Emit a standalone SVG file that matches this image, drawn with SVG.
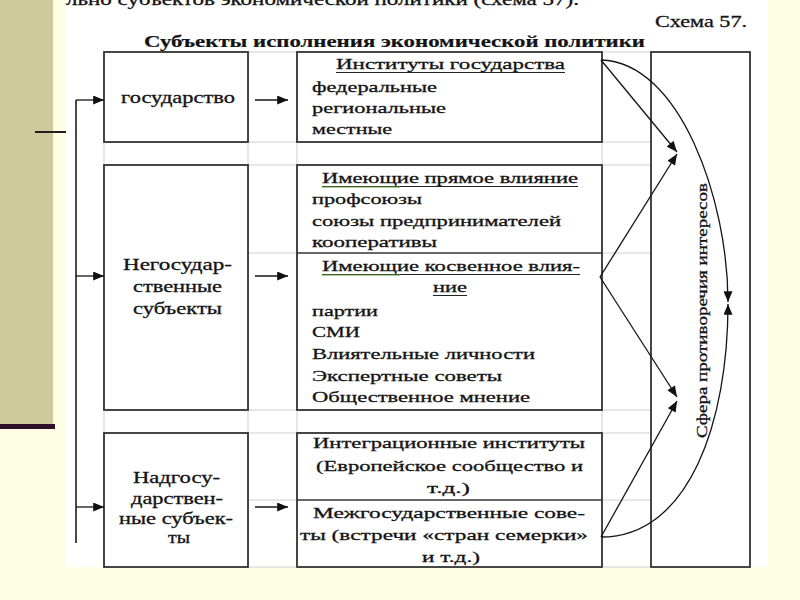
<svg xmlns="http://www.w3.org/2000/svg" width="800" height="600" viewBox="0 0 800 600">
<defs>
<style>
.t{font-family:"Liberation Serif","Times New Roman",serif;font-size:16px;fill:#141414;stroke:#141414;stroke-width:0.3}
.m{font-size:15.5px}
.b{font-weight:bold;stroke-width:0.2}
.box{fill:#fff;stroke:#333;stroke-width:1.8}
.div{stroke:#333;stroke-width:1.6}
.grid{stroke:#cfcfcf;stroke-width:1;fill:none}
.c{stroke:#151515;stroke-width:1.3;fill:none}
.v{stroke:#4a4a4a;stroke-width:2;fill:none}
.ul{stroke:#222;stroke-width:1}
.gl{stroke:#5a9a3a;stroke-width:1.2}
</style>
<marker id="ah" viewBox="0 0 12 10" refX="12" refY="5" markerWidth="12" markerHeight="9" markerUnits="userSpaceOnUse" orient="auto"><path d="M0,0 L12,5 L0,10 z" fill="#111"/></marker>
</defs>
<rect x="0" y="0" width="800" height="600" fill="#fefee4"/>
<rect x="0" y="0" width="53" height="424" fill="#cdca9b"/>
<rect x="0" y="424" width="55" height="5" fill="#2e0f2a"/>
<line x1="35" y1="132" x2="67" y2="132" stroke="#2a1a20" stroke-width="2"/>
<rect x="66" y="0" width="702" height="567" fill="#fff"/>
<text class="t" x="66" y="5" font-size="15" textLength="513" lengthAdjust="spacingAndGlyphs">льно субъектов экономической политики (схема 57).</text>
<text class="t" x="655" y="27" font-size="15" textLength="92" lengthAdjust="spacingAndGlyphs">Схема 57.</text>
<text class="t b" x="144" y="47" textLength="501" lengthAdjust="spacingAndGlyphs">Субъекты исполнения экономической политики</text>
<g id="grid" class="grid">
<path d="M104,52 V567 M248,52 V567 M297,52 V567 M602,52 V567"/>
<path d="M104,52 H651 M104,142 H651 M104,165 H651 M104,253 H651 M104,410 H651 M104,433 H651 M104,500 H651 M104,567 H651"/>
</g>
<g id="state">
<rect class="box" x="104" y="52" width="144" height="90"/>
<text class="t" x="121" y="103" textLength="114" lengthAdjust="spacingAndGlyphs">государство</text>
</g>
<g id="nonstate">
<rect class="box" x="104" y="165" width="144" height="245"/>
<text class="t" x="123" y="270" textLength="109" lengthAdjust="spacingAndGlyphs">Негосудар-</text>
<text class="t" x="133" y="292" textLength="89" lengthAdjust="spacingAndGlyphs">ственные</text>
<text class="t" x="133" y="314" textLength="89" lengthAdjust="spacingAndGlyphs">субъекты</text>
</g>
<g id="suprastate">
<rect class="box" x="104" y="433" width="144" height="134"/>
<text class="t" x="133" y="483" textLength="87" lengthAdjust="spacingAndGlyphs">Надгосу-</text>
<text class="t" x="131" y="504" textLength="92" lengthAdjust="spacingAndGlyphs">дарствен-</text>
<text class="t" x="119" y="524" textLength="114" lengthAdjust="spacingAndGlyphs">ные субъек-</text>
<text class="t" x="168" y="543" textLength="22" lengthAdjust="spacingAndGlyphs">ты</text>
</g>
<g id="institutions">
<rect class="box" x="297" y="52" width="305" height="90"/>
<text class="t m" x="336" y="69" textLength="229" lengthAdjust="spacingAndGlyphs">Институты государства</text>
<line class="ul" x1="336" y1="72.5" x2="565" y2="72.5"/>
<text class="t m" x="312" y="92" textLength="125" lengthAdjust="spacingAndGlyphs">федеральные</text>
<text class="t m" x="312" y="113" textLength="134" lengthAdjust="spacingAndGlyphs">региональные</text>
<text class="t m" x="312" y="134" textLength="80" lengthAdjust="spacingAndGlyphs">местные</text>
</g>
<g id="influence">
<rect class="box" x="297" y="165" width="305" height="245"/>
<line class="div" x1="297" y1="253" x2="602" y2="253"/>
<text class="t m" x="322" y="183" textLength="256" lengthAdjust="spacingAndGlyphs">Имеющие прямое влияние</text>
<line class="ul" x1="322" y1="186.5" x2="578" y2="186.5"/>
<line class="gl" x1="322" y1="187" x2="400" y2="187"/>
<text class="t m" x="312" y="204" textLength="110" lengthAdjust="spacingAndGlyphs">профсоюзы</text>
<text class="t m" x="312" y="226" textLength="249" lengthAdjust="spacingAndGlyphs">союзы предпринимателей</text>
<text class="t m" x="312" y="247" textLength="125" lengthAdjust="spacingAndGlyphs">кооперативы</text>
<text class="t m" x="322" y="271" textLength="258" lengthAdjust="spacingAndGlyphs">Имеющие косвенное влия-</text>
<line class="ul" x1="322" y1="274.5" x2="580" y2="274.5"/>
<line class="gl" x1="322" y1="275" x2="400" y2="275"/>
<text class="t m" x="433" y="292" textLength="34" lengthAdjust="spacingAndGlyphs">ние</text>
<line class="ul" x1="433" y1="295.5" x2="467" y2="295.5"/>
<text class="t m" x="312" y="316" textLength="66" lengthAdjust="spacingAndGlyphs">партии</text>
<text class="t m" x="312" y="337" textLength="48" lengthAdjust="spacingAndGlyphs">СМИ</text>
<text class="t m" x="312" y="359" textLength="223" lengthAdjust="spacingAndGlyphs">Влиятельные личности</text>
<text class="t m" x="312" y="381" textLength="190" lengthAdjust="spacingAndGlyphs">Экспертные советы</text>
<text class="t m" x="312" y="402" textLength="218" lengthAdjust="spacingAndGlyphs">Общественное мнение</text>
</g>
<g id="international">
<rect class="box" x="297" y="433" width="305" height="134"/>
<line class="div" x1="297" y1="500" x2="602" y2="500"/>
<text class="t m" x="313" y="448" textLength="272" lengthAdjust="spacingAndGlyphs">Интеграционные институты</text>
<text class="t m" x="316" y="471" textLength="267" lengthAdjust="spacingAndGlyphs">(Европейское сообщество и</text>
<text class="t m" x="427" y="493" textLength="43" lengthAdjust="spacingAndGlyphs">т.д.)</text>
<text class="t m" x="313" y="518" textLength="272" lengthAdjust="spacingAndGlyphs">Межгосударственные сове-</text>
<text class="t m" x="300" y="540" textLength="288" lengthAdjust="spacingAndGlyphs">ты (встречи «стран семерки»</text>
<text class="t m" x="422" y="562" textLength="58" lengthAdjust="spacingAndGlyphs">и т.д.)</text>
</g>
<g id="sphere">
<rect class="box" x="651" y="52" width="99" height="515"/>
<text class="t m" transform="translate(707,310) rotate(-90)" x="-128" y="0" textLength="255" lengthAdjust="spacingAndGlyphs">Сфера противоречия интересов</text>
</g>
<g id="connectors">
<path class="v" d="M76,100 V543"/>
<path class="c" d="M76,100 H104" marker-end="url(#ah)"/>
<path class="c" d="M76,276 H104" marker-end="url(#ah)"/>
<path class="c" d="M76,507 H104" marker-end="url(#ah)"/>
<path class="c" d="M255,100 H288" marker-end="url(#ah)"/>
<path class="c" d="M255,276 H288" marker-end="url(#ah)"/>
<path class="c" d="M255,507 H288" marker-end="url(#ah)"/>
<path class="c" d="M601,60 L677,152" marker-end="url(#ah)"/>
<path class="c" d="M600,277 L677,154" marker-end="url(#ah)"/>
<path class="c" d="M600,277 L677,397" marker-end="url(#ah)"/>
<path class="c" d="M601,537 L677,401" marker-end="url(#ah)"/>
<path class="c" d="M601,60 C680,62 728,200 728,302" marker-end="url(#ah)"/>
<path class="c" d="M601,537 C690,537 728,420 728,304" marker-end="url(#ah)"/>
</g>
</svg>
